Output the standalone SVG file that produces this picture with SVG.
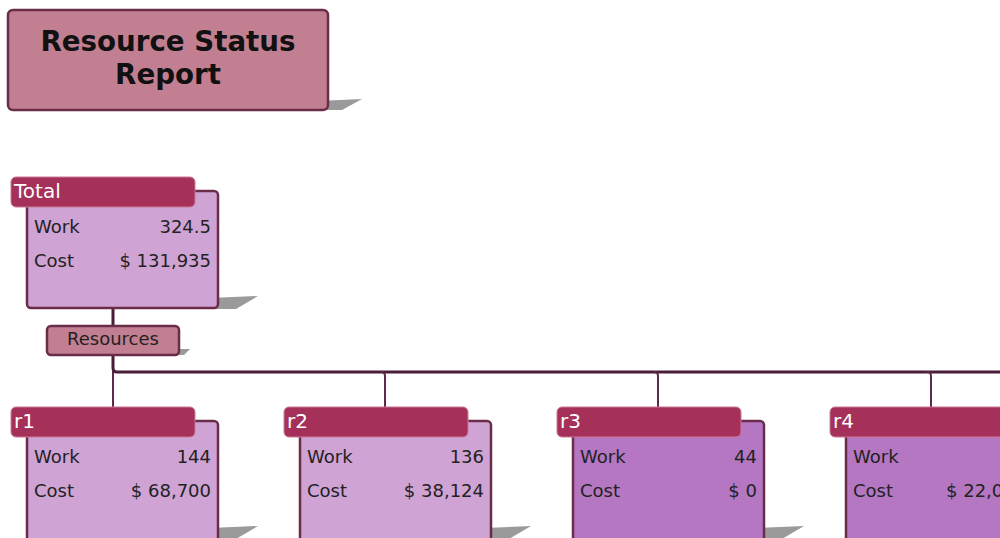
<svg xmlns="http://www.w3.org/2000/svg" width="1000" height="538" viewBox="0 0 1000 538">
<style>
.shadow{fill:#9a9a9a}
.title{fill:#c27f92;stroke:#6a2c48;stroke-width:2.5}
.hdr{fill:#a5305a;stroke:#c77b95;stroke-width:1}
.body{fill:#d0a3d5;stroke:#6a2c48;stroke-width:2.5}
.body2{fill:#b577c2;stroke:#6a2c48;stroke-width:2.5}
.ht{font-family:"DejaVu Sans",Verdana,sans-serif;font-size:20px;fill:#ffffff}
.t{font-family:"DejaVu Sans",Verdana,sans-serif;font-size:18px;fill:#222222}
.r{text-anchor:end}
.tt{font-family:"DejaVu Sans",Verdana,sans-serif;font-size:27.7px;font-weight:bold;fill:#111111;text-anchor:middle}
.conn{fill:none;stroke:#4a1c38;stroke-width:3}
.conn2{fill:none;stroke:#5c2a48;stroke-width:2}
</style>
<g id="title">
<polygon class="shadow" points="318,101 362,99 342,110 318,110"/>
<rect class="title" x="8" y="10" width="320" height="100" rx="5"/>
<text class="tt" x="168" y="51">Resource Status</text>
<text class="tt" x="168" y="84">Report</text>
</g>
<g id="connectors">
<path class="conn" d="M113,308 V326"/>
<path class="conn2" d="M113,355 V407"/>
<path class="conn" d="M113,355 V368 Q113,372 117,372 H1000"/>
<path class="conn2" d="M381,372 Q385,372 385,376 V407"/>
<path class="conn2" d="M654,372 Q658,372 658,376 V407"/>
<path class="conn2" d="M927,372 Q931,372 931,376 V407"/>
</g>
<g id="total">
<polygon class="shadow" points="210,298 258,296 236,309 210,309"/>
<rect class="body" x="27" y="191" width="191" height="117" rx="4"/>
<rect class="hdr" x="11" y="177" width="184" height="30" rx="5"/>
<text class="ht" x="14" y="198">Total</text>
<text class="t" x="34" y="233">Work</text>
<text class="t r" x="211" y="233">324.5</text>
<text class="t" x="34" y="267">Cost</text>
<text class="t r" x="211" y="267">$ 131,935</text>
</g>
<g id="resources">
<polygon class="shadow" points="172,349 190,349 184,355 172,355"/>
<rect class="title" x="47" y="326" width="132" height="29" rx="4"/>
<text class="t" x="113" y="345" text-anchor="middle">Resources</text>
</g>
<g id="r1">
<polygon class="shadow" points="210,528 258,526 236,539 210,539"/>
<rect class="body" x="27" y="421" width="191" height="125" rx="4"/>
<rect class="hdr" x="11" y="407" width="184" height="30" rx="5"/>
<text class="ht" x="14" y="428">r1</text>
<text class="t" x="34" y="463">Work</text>
<text class="t r" x="211" y="463">144</text>
<text class="t" x="34" y="497">Cost</text>
<text class="t r" x="211" y="497">$ 68,700</text>
</g>
<g id="r2">
<polygon class="shadow" points="483,528 531,526 509,539 483,539"/>
<rect class="body" x="300" y="421" width="191" height="125" rx="4"/>
<rect class="hdr" x="284" y="407" width="184" height="30" rx="5"/>
<text class="ht" x="287" y="428">r2</text>
<text class="t" x="307" y="463">Work</text>
<text class="t r" x="484" y="463">136</text>
<text class="t" x="307" y="497">Cost</text>
<text class="t r" x="484" y="497">$ 38,124</text>
</g>
<g id="r3">
<polygon class="shadow" points="756,528 804,526 782,539 756,539"/>
<rect class="body2" x="573" y="421" width="191" height="125" rx="4"/>
<rect class="hdr" x="557" y="407" width="184" height="30" rx="5"/>
<text class="ht" x="560" y="428">r3</text>
<text class="t" x="580" y="463">Work</text>
<text class="t r" x="757" y="463">44</text>
<text class="t" x="580" y="497">Cost</text>
<text class="t r" x="757" y="497">$ 0</text>
</g>
<g id="r4">
<rect class="body2" x="846" y="421" width="191" height="125" rx="4"/>
<rect class="hdr" x="830" y="407" width="184" height="30" rx="5"/>
<text class="ht" x="833" y="428">r4</text>
<text class="t" x="853" y="463">Work</text>
<text class="t" x="853" y="497">Cost</text>
<text class="t" x="946" y="497">$ 22,0</text>
</g>
</svg>
